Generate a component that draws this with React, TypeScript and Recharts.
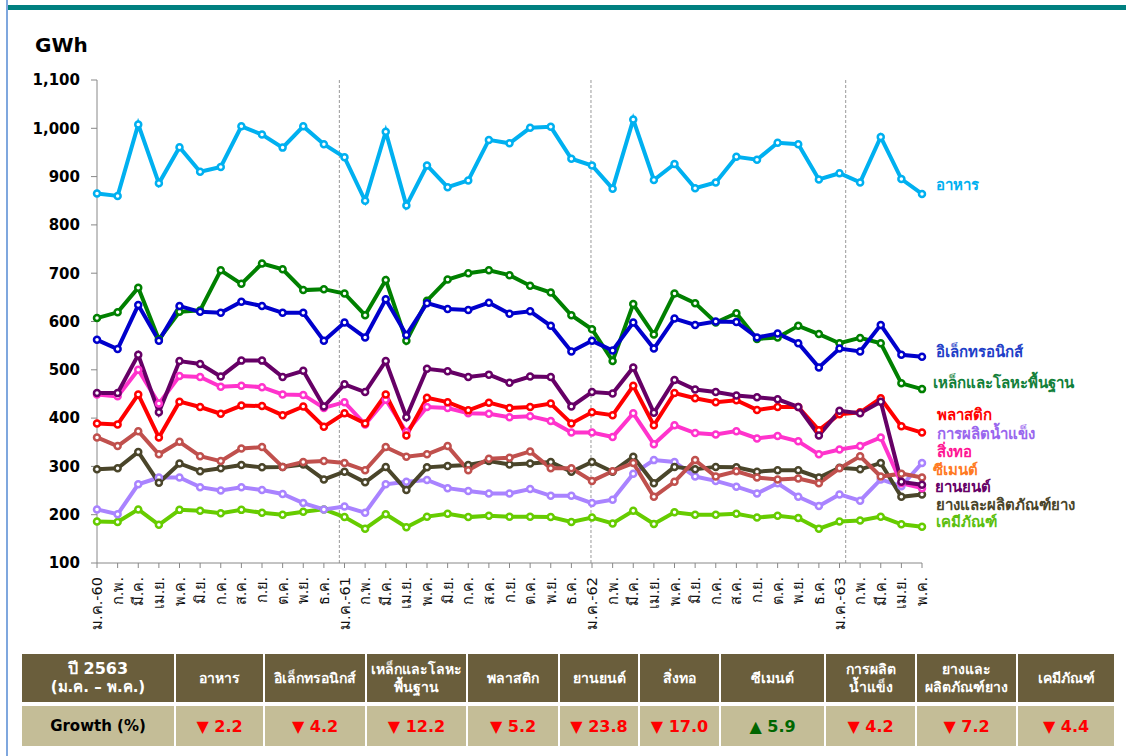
import { LineChart, Line, XAxis, YAxis, ReferenceLine } from "recharts";

// ─── Data ─────────────────────────────────────────────────────────────────────

const monthLabels = [
  "ม.ค.-60", "ก.พ.", "มี.ค.", "เม.ย.", "พ.ค.", "มิ.ย.", "ก.ค.", "ส.ค.", "ก.ย.", "ต.ค.", "พ.ย.", "ธ.ค.",
  "ม.ค.-61", "ก.พ.", "มี.ค.", "เม.ย.", "พ.ค.", "มิ.ย.", "ก.ค.", "ส.ค.", "ก.ย.", "ต.ค.", "พ.ย.", "ธ.ค.",
  "ม.ค.-62", "ก.พ.", "มี.ค.", "เม.ย.", "พ.ค.", "มิ.ย.", "ก.ค.", "ส.ค.", "ก.ย.", "ต.ค.", "พ.ย.", "ธ.ค.",
  "ม.ค.-63", "ก.พ.", "มี.ค.", "เม.ย.", "พ.ค.",
];

const food = [865, 860, 1008, 886, 961, 910, 920, 1004, 987, 960, 1004, 967, 940, 850, 993, 840, 923, 878, 892, 976, 969, 1001, 1003, 937, 923, 875, 1018, 893, 926, 876, 888, 941, 935, 970, 967, 894, 907, 888, 982, 895, 864];
const electronics = [562, 543, 634, 560, 632, 620, 618, 641, 632, 618, 618, 560, 598, 567, 646, 572, 638, 626, 624, 639, 616, 621, 591, 538, 560, 540, 598, 544, 606, 593, 600, 599, 567, 575, 555, 505, 544, 538, 593, 531, 527];
const steel = [607, 619, 670, 563, 620, 623, 706, 678, 720, 708, 665, 667, 658, 613, 686, 560, 643, 687, 700, 706, 696, 674, 660, 613, 584, 518, 636, 573, 658, 638, 598, 617, 564, 567, 591, 574, 555, 566, 555, 472, 460];
const plastics = [389, 387, 449, 360, 434, 423, 409, 426, 425, 406, 424, 382, 410, 389, 449, 364, 442, 433, 416, 432, 421, 423, 430, 389, 412, 406, 467, 385, 452, 441, 433, 437, 417, 423, 423, 375, 408, 412, 441, 383, 370];
const automotive = [452, 452, 531, 412, 518, 512, 486, 519, 519, 485, 498, 424, 470, 454, 518, 402, 502, 497, 485, 490, 473, 486, 485, 424, 454, 451, 505, 411, 479, 459, 454, 447, 443, 439, 423, 364, 415, 410, 434, 268, 262];
const textiles = [449, 445, 500, 430, 487, 485, 465, 467, 464, 449, 448, 421, 433, 387, 438, 371, 423, 421, 410, 409, 402, 404, 394, 370, 370, 361, 410, 346, 385, 369, 366, 373, 358, 363, 352, 325, 335, 342, 360, 265, 255];
const cement = [360, 342, 373, 325, 351, 321, 311, 337, 340, 299, 309, 311, 307, 292, 340, 320, 325, 342, 292, 316, 318, 331, 296, 296, 270, 290, 307, 237, 268, 313, 279, 290, 277, 273, 275, 265, 296, 321, 279, 285, 277];
const rubber = [294, 296, 330, 266, 306, 290, 296, 303, 298, 299, 304, 273, 289, 267, 299, 251, 298, 301, 303, 311, 304, 306, 309, 289, 309, 289, 320, 265, 299, 294, 299, 298, 289, 292, 292, 277, 297, 294, 307, 237, 242];
const ice = [211, 201, 263, 277, 277, 257, 250, 257, 251, 243, 224, 211, 217, 204, 263, 268, 272, 255, 249, 244, 244, 253, 239, 239, 224, 231, 285, 313, 309, 279, 270, 258, 244, 265, 237, 218, 242, 229, 273, 259, 307];
const chemicals = [186, 185, 211, 179, 210, 208, 203, 210, 204, 200, 206, 211, 195, 171, 201, 174, 196, 202, 195, 198, 196, 196, 195, 185, 194, 182, 208, 181, 205, 200, 200, 202, 194, 198, 193, 171, 186, 188, 196, 180, 175];

const yTicks = [100, 200, 300, 400, 500, 600, 700, 800, 900, 1000, 1100];
// year dividers sit just around each January
const yearDividers = [11.75, 23.95, 36.3];

const growthHeaders = [
  ["อาหาร"],
  ["อิเล็กทรอนิกส์"],
  ["เหล็กและโลหะ", "พื้นฐาน"],
  ["พลาสติก"],
  ["ยานยนต์"],
  ["สิ่งทอ"],
  ["ซีเมนต์"],
  ["การผลิต", "น้ำแข็ง"],
  ["ยางและ", "ผลิตภัณฑ์ยาง"],
  ["เคมีภัณฑ์"],
];
const growthValues = [-2.2, -4.2, -12.2, -5.2, -23.8, -17.0, 5.9, -4.2, -7.2, -4.4];

// ─── Series config ───────────────────────────────────────────────────────────

const series = [
  { key: "chemicals", label: "เคมีภัณฑ์", values: chemicals, color: "#66cc00", labelColor: "#5cbf10", labelY: 522, labelX: 936 },
  { key: "ice", label: "การผลิตน้ำแข็ง", values: ice, color: "#a983ff", labelColor: "#9966ee", labelY: 434, labelX: 937 },
  { key: "rubber", label: "ยางและผลิตภัณฑ์ยาง", values: rubber, color: "#4a452a", labelColor: "#4a452a", labelY: 505, labelX: 936 },
  { key: "cement", label: "ซีเมนต์", values: cement, color: "#c0504d", labelColor: "#ff7a22", labelY: 470, labelX: 933 },
  { key: "textiles", label: "สิ่งทอ", values: textiles, color: "#ff33cc", labelColor: "#ff1493", labelY: 452, labelX: 937 },
  { key: "plastics", label: "พลาสติก", values: plastics, color: "#ff0000", labelColor: "#ff0000", labelY: 415, labelX: 937 },
  { key: "automotive", label: "ยานยนต์", values: automotive, color: "#660066", labelColor: "#660066", labelY: 487, labelX: 935 },
  { key: "steel", label: "เหล็กและโลหะพื้นฐาน", values: steel, color: "#008000", labelColor: "#12803a", labelY: 383, labelX: 933 },
  { key: "electronics", label: "อิเล็กทรอนิกส์", values: electronics, color: "#0000cc", labelColor: "#1f3fc8", labelY: 352, labelX: 936 },
  { key: "food", label: "อาหาร", values: food, color: "#00b0f0", labelColor: "#00b0f0", labelY: 185, labelX: 936 },
];

const chartData = monthLabels.map((m, i) => {
  const row: Record<string, number | string> = { i, month: m };
  series.forEach((s) => {
    row[s.key] = s.values[i];
  });
  return row;
});

const FONT = "Tahoma, 'DejaVu Sans', sans-serif";

// ─── Ticks ───────────────────────────────────────────────────────────────────

function MonthTick({ x, y, payload }: { x: number; y: number; payload: { value: number } }) {
  return (
    <text
      x={x}
      y={y}
      transform={`rotate(-90, ${x}, ${y})`}
      textAnchor="end"
      dominantBaseline="central"
      fontSize={14.5}
      fontFamily={FONT}
      fill="#111"
    >
      {monthLabels[payload.value]}
    </text>
  );
}

// ─── Table ───────────────────────────────────────────────────────────────────

const colEdges = [22, 176, 265, 367, 468, 560, 640, 721, 826, 917, 1018, 1116];

function GrowthTable() {
  const headTop = 654;
  const headH = 48;
  const rowTop = 706;
  const rowH = 40;
  return (
    <>
      {colEdges.slice(0, -1).map((left, c) => {
        const w = colEdges[c + 1] - left - 2;
        const head = c === 0 ? null : growthHeaders[c - 1];
        const v = c === 0 ? null : growthValues[c - 1];
        return (
          <div key={c}>
            <div
              style={{
                position: "absolute",
                left,
                top: headTop,
                width: w,
                height: headH,
                background: "#6a5e3c",
                color: "#fff",
                fontFamily: FONT,
                fontWeight: "bold",
                fontSize: 14,
                lineHeight: "18px",
                display: "flex",
                flexDirection: "column",
                alignItems: "center",
                justifyContent: "center",
                textAlign: "center",
              }}
            >
              {c === 0 ? (
                <>
                  <span style={{ fontSize: 16 }}>ปี 2563</span>
                  <span style={{ fontSize: 15 }}>(ม.ค. – พ.ค.)</span>
                </>
              ) : (
                head!.map((t) => <span key={t}>{t}</span>)
              )}
            </div>
            <div
              style={{
                position: "absolute",
                left,
                top: rowTop,
                width: w,
                height: rowH,
                background: "#c4bd97",
                fontFamily: FONT,
                fontWeight: "bold",
                fontSize: c === 0 ? 15 : 16,
                display: "flex",
                alignItems: "center",
                justifyContent: "center",
                color: c === 0 ? "#000" : v! < 0 ? "#ff0000" : "#006600",
              }}
            >
              {c === 0 ? "Growth (%)" : `${v! < 0 ? "▼" : "▲"} ${Math.abs(v!).toFixed(1)}`}
            </div>
          </div>
        );
      })}
    </>
  );
}

// ─── App ─────────────────────────────────────────────────────────────────────

export default function App() {
  return (
    <div style={{ position: "absolute", left: 0, top: 0, width: 1126, height: 756, background: "#fff", overflow: "hidden" }}>
      <div style={{ position: "absolute", left: 6, top: 0, width: 2, height: 756, background: "#7fa7de" }} />
      <div style={{ position: "absolute", left: 8, top: 5, width: 1118, height: 5, background: "#008080" }} />
      <div style={{ position: "absolute", left: 35, top: 33, fontFamily: "'DejaVu Sans', sans-serif", fontWeight: "bold", fontSize: 20 }}>
        GWh
      </div>

      <div style={{ position: "absolute", left: 0, top: 0 }}>
        <LineChart width={1126} height={640} data={chartData} margin={{ top: 80, right: 204, left: 0, bottom: 0 }}>
          <XAxis
            dataKey="i"
            type="number"
            domain={[0, 40]}
            ticks={monthLabels.map((_, i) => i)}
            interval={0}
            height={77}
            stroke="#888"
            tickSize={5}
            tickMargin={9}
            tick={MonthTick as never}
          />
          <YAxis
            type="number"
            domain={[100, 1100]}
            ticks={yTicks}
            interval={0}
            width={97}
            stroke="#888"
            tickSize={6}
            tickMargin={11}
            tickFormatter={(v: number) => v.toLocaleString("en-US")}
            tick={{ fill: "#000", fontSize: 15, fontWeight: "bold", fontFamily: "'DejaVu Sans', sans-serif" }}
          />
          {yearDividers.map((x) => (
            <ReferenceLine key={x} x={x} stroke="#999" strokeDasharray="3 2" strokeWidth={1} />
          ))}
          {series.map((s) => (
            <Line
              key={s.key}
              dataKey={s.key}
              type="linear"
              stroke={s.color}
              strokeWidth={4}
              dot={{ r: 3, fill: "#fff", stroke: s.color, strokeWidth: 2.5 }}
              activeDot={false}
              isAnimationActive={false}
            />
          ))}
        </LineChart>
      </div>

      {series.map((s) => (
        <div
          key={s.key}
          style={{
            position: "absolute",
            left: s.labelX,
            top: s.labelY - 10,
            height: 20,
            lineHeight: "20px",
            color: s.labelColor,
            fontFamily: FONT,
            fontWeight: "bold",
            fontSize: 15,
            whiteSpace: "nowrap",
          }}
        >
          {s.label}
        </div>
      ))}

      <GrowthTable />
    </div>
  );
}
